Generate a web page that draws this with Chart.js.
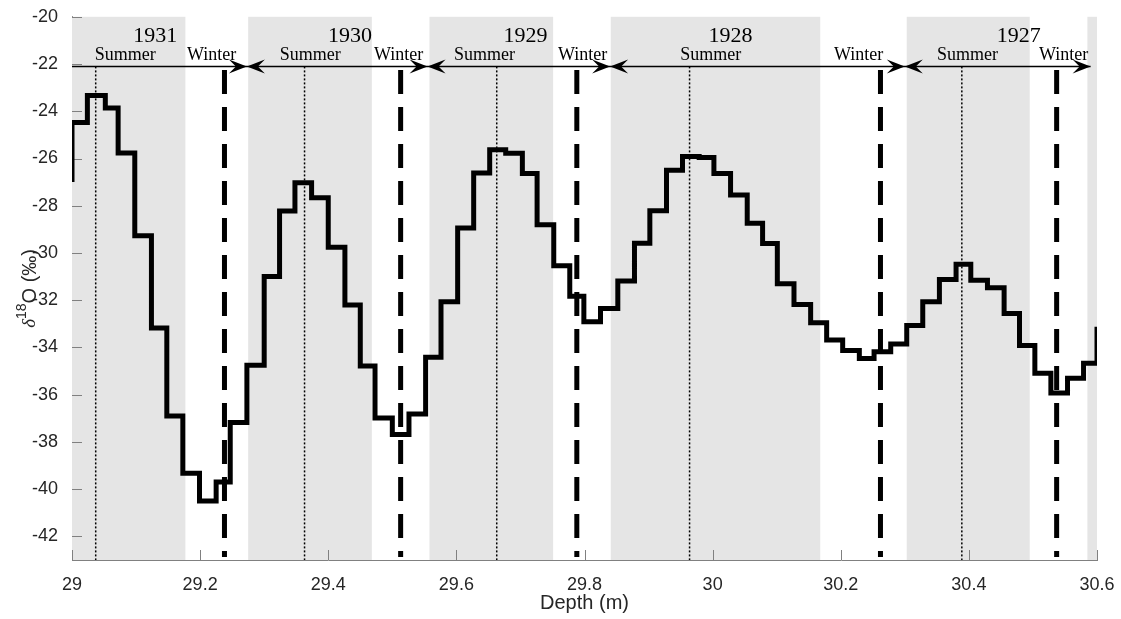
<!DOCTYPE html>
<html>
<head>
<meta charset="utf-8">
<script src="https://cdn.jsdelivr.net/npm/chart.js@4.4.0/dist/chart.umd.min.js"></script>
<style>
  html, body { margin: 0; padding: 0; background: #fff; }
  #wrap { width: 1121px; height: 619px; }
</style>
</head>
<body>
<div id="wrap"><canvas id="c" width="1121" height="619"></canvas></div>
<script>
// step starts (m) and the d18O value held from that depth to the next one
const depths = [29.000, 29.000, 29.024, 29.052, 29.072, 29.098, 29.124, 29.148, 29.173, 29.199,
  29.225, 29.247, 29.273, 29.300, 29.324, 29.348, 29.374, 29.400, 29.426, 29.450,
  29.473, 29.500, 29.526, 29.552, 29.576, 29.602, 29.627, 29.652, 29.677, 29.703,
  29.726, 29.752, 29.777, 29.799, 29.825, 29.852, 29.878, 29.902, 29.928, 29.953,
  29.979, 30.002, 30.028, 30.054, 30.078, 30.101, 30.127, 30.153, 30.178, 30.203,
  30.229, 30.252, 30.278, 30.303, 30.328, 30.354, 30.380, 30.403, 30.429, 30.455,
  30.479, 30.503, 30.528, 30.554, 30.579, 30.600, 30.600];
const d18O = [-27.0, -24.48, -23.33, -23.86, -25.77, -29.27, -33.18, -36.9, -39.33, -40.5,
  -39.7, -37.18, -34.75, -31.0, -28.22, -27.03, -27.66, -29.76, -32.2, -34.79,
  -36.99, -37.69, -36.82, -34.41, -32.07, -28.94, -26.61, -25.63, -25.78, -26.64,
  -28.81, -30.54, -31.83, -32.91, -32.35, -31.19, -29.59, -28.21, -26.5, -25.91,
  -25.96, -26.64, -27.54, -28.74, -29.6, -31.3, -32.18, -32.95, -33.68, -34.13,
  -34.47, -34.18, -33.85, -33.07, -32.07, -31.12, -30.48, -31.16, -31.47, -32.56,
  -33.92, -35.09, -35.93, -35.3, -34.67, -34.67, -33.12];

// grey (summer half-year) bands [from, to]
const summerBands = [[29.0, 29.177], [29.275, 29.468], [29.558, 29.751], [29.841, 30.168], [30.303, 30.495], [30.585, 30.6]];
const winterLines = [29.238, 29.513, 29.788, 30.262, 30.537];
const summerLines = [29.037, 29.363, 29.663, 29.964, 30.389];
const yearBounds = [29.0, 29.273, 29.555, 29.840, 30.300, 30.590];
const years = ['1931', '1930', '1929', '1928', '1927'];
const yearPos = [29.13, 29.434, 29.708, 30.028, 30.478];
const summerPos = [29.083, 29.372, 29.644, 29.997, 30.398];
const winterPos = [29.218, 29.51, 29.797, 30.228, 30.548];
const arrowY = -22.1;

const xTicks = [29, 29.2, 29.4, 29.6, 29.8, 30, 30.2, 30.4, 30.6];
const yTicks = [-20, -22, -24, -26, -28, -30, -32, -34, -36, -38, -40, -42];

const deco = {
  id: 'deco',
  beforeDatasetsDraw(chart) {
    const { ctx, chartArea: a, scales: { x, y } } = chart;
    ctx.save();
    ctx.fillStyle = '#e5e5e5';
    summerBands.forEach(([f, t]) => {
      ctx.fillRect(x.getPixelForValue(f), a.top, x.getPixelForValue(t) - x.getPixelForValue(f), a.bottom - a.top);
    });
    // winter dashed lines
    ctx.strokeStyle = '#000';
    ctx.lineWidth = 5;
    ctx.setLineDash([24, 13]);
    winterLines.forEach(d => {
      const px = x.getPixelForValue(d);
      ctx.beginPath(); ctx.moveTo(px, y.getPixelForValue(-22.25)); ctx.lineTo(px, a.bottom - 3); ctx.stroke();
    });
    // summer dotted lines
    ctx.lineWidth = 1.5;
    ctx.setLineDash([2, 2]);
    summerLines.forEach(d => {
      const px = x.getPixelForValue(d);
      ctx.beginPath(); ctx.moveTo(px, y.getPixelForValue(arrowY)); ctx.lineTo(px, a.bottom); ctx.stroke();
    });
    ctx.setLineDash([]);
    // axis ticks (inward)
    ctx.strokeStyle = '#808080';
    ctx.lineWidth = 1;
    xTicks.forEach(v => {
      const px = Math.round(x.getPixelForValue(v)) + 0.5;
      ctx.beginPath(); ctx.moveTo(px, a.bottom); ctx.lineTo(px, a.bottom - 10); ctx.stroke();
    });
    yTicks.forEach(v => {
      const py = Math.round(y.getPixelForValue(v)) + 0.5;
      ctx.beginPath(); ctx.moveTo(a.left, py); ctx.lineTo(a.left + 10, py); ctx.stroke();
    });
    ctx.restore();
  },
  afterDatasetsDraw(chart) {
    const { ctx, chartArea: a, scales: { x, y } } = chart;
    ctx.save();
    const ay = y.getPixelForValue(arrowY);
    ctx.strokeStyle = '#000';
    ctx.lineWidth = 1.5;
    ctx.beginPath(); ctx.moveTo(a.left, ay); ctx.lineTo(x.getPixelForValue(yearBounds[yearBounds.length - 1]), ay); ctx.stroke();
    const head = (px, dir) => {
      ctx.beginPath();
      ctx.moveTo(px - dir * 18, ay - 7);
      ctx.lineTo(px, ay);
      ctx.lineTo(px - dir * 18, ay + 7);
      ctx.lineTo(px - dir * 11, ay);
      ctx.closePath();
      ctx.fill();
    };
    ctx.fillStyle = '#000';
    yearBounds.forEach((d, i) => {
      const px = x.getPixelForValue(d);
      if (i > 0) head(px, 1);
      if (i > 0 && i < yearBounds.length - 1) head(px, -1);
    });
    ctx.textAlign = 'center';
    ctx.textBaseline = 'alphabetic';
    ctx.font = '22px "Liberation Serif", "Times New Roman", serif';
    years.forEach((t, i) => ctx.fillText(t, x.getPixelForValue(yearPos[i]), y.getPixelForValue(-21.05)));
    ctx.font = '18px "Liberation Serif", "Times New Roman", serif';
    summerPos.forEach(d => ctx.fillText('Summer', x.getPixelForValue(d), y.getPixelForValue(-21.85)));
    winterPos.forEach(d => ctx.fillText('Winter', x.getPixelForValue(d), y.getPixelForValue(-21.85)));
    // y title
    ctx.translate(30, (a.top + a.bottom) / 2);
    ctx.rotate(-Math.PI / 2);
    ctx.fillStyle = '#262626';
    ctx.textAlign = 'left';
    ctx.textBaseline = 'middle';
    const parts = [['italic 19px "Liberation Serif", serif', 'δ', 0], ['14px "Liberation Sans", Arial', '18', -8], ['20px "Liberation Sans", Arial', 'O (‰)', 0]];
    let w = 0;
    parts.forEach(p => { ctx.font = p[0]; w += ctx.measureText(p[1]).width; });
    let cx = -w / 2;
    parts.forEach(p => { ctx.font = p[0]; ctx.fillText(p[1], cx, p[2]); cx += ctx.measureText(p[1]).width; });
    ctx.restore();
  }
};

new Chart(document.getElementById('c'), {
  type: 'line',
  data: {
    datasets: [{
      data: depths.map((d, i) => ({ x: d, y: d18O[i] })),
      borderColor: '#000',
      borderWidth: 5,
      stepped: 'before',
      pointRadius: 0,
      fill: false,
    }],
  },
  options: {
    responsive: false,
    animation: false,
    layout: { padding: { top: 15, right: 24 } },
    plugins: { legend: { display: false }, tooltip: { enabled: false } },
    scales: {
      x: {
        type: 'linear', min: 29, max: 30.6,
        afterBuildTicks: s => { s.ticks = xTicks.map(v => ({ value: v })); },
        afterFit: s => { s.height = 59; },
        grid: { display: false },
        border: { color: '#808080', width: 1 },
        ticks: { color: '#262626', font: { family: '"Liberation Sans", Arial', size: 18 }, padding: 6, maxRotation: 0,
          callback: v => String(v) },
        title: { display: true, text: 'Depth (m)', color: '#262626', font: { family: '"Liberation Sans", Arial', size: 20 }, padding: { top: 0 } },
      },
      y: {
        type: 'linear', min: -43, max: -20,
        afterBuildTicks: s => { s.ticks = yTicks.map(v => ({ value: v })); },
        afterFit: s => { s.width = 72; },
        grid: { display: false },
        border: { color: '#808080', width: 1 },
        ticks: { color: '#262626', font: { family: '"Liberation Sans", Arial', size: 18 }, padding: 6 },
      },
    },
  },
  plugins: [deco],
});
</script>
</body>
</html>
